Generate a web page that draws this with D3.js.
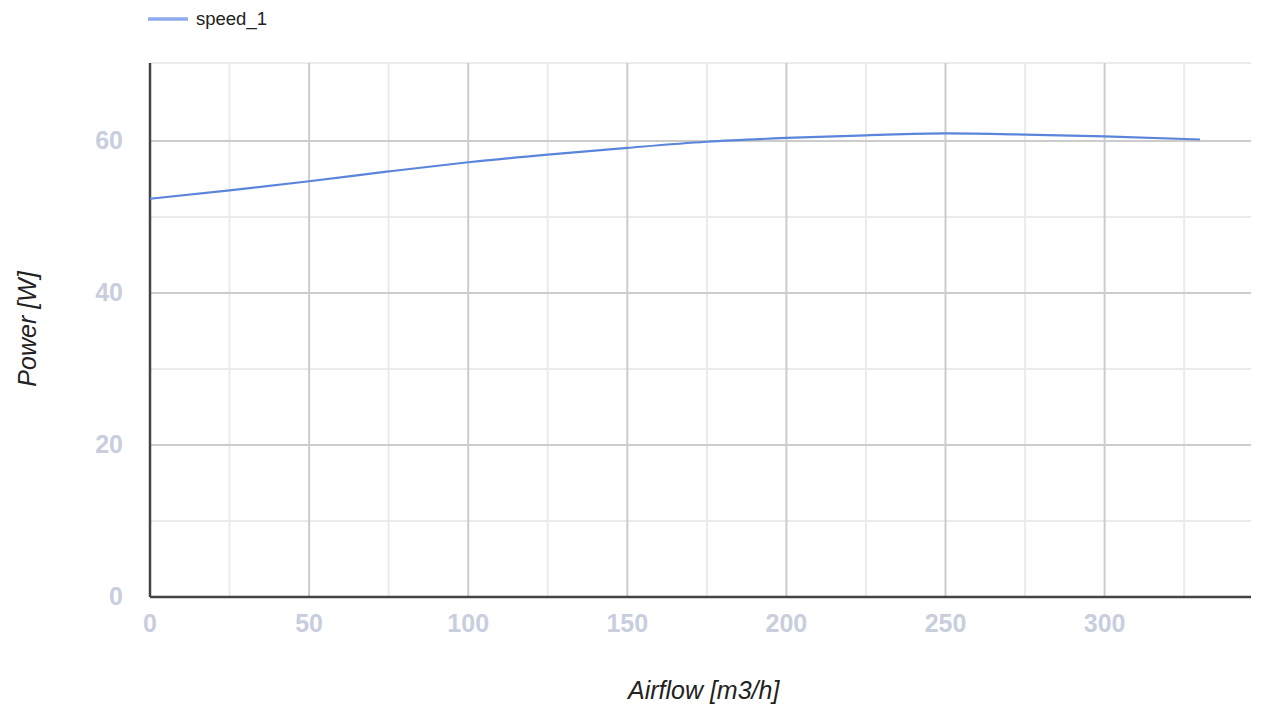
<!DOCTYPE html>
<html>
<head>
<meta charset="utf-8">
<script src="https://cdn.jsdelivr.net/npm/d3@7"></script>
<style>
  body { margin: 0; background: #fff; }
  svg { display: block; font-family: 'Liberation Sans', Arial, sans-serif; }
</style>
</head>
<body>
<svg width="1263" height="709"></svg>
<script>
'use strict';

const seriesName = 'speed_1'
const airflow = [0, 25, 50, 75, 100, 125, 150, 175, 200, 225, 250, 275, 300, 330]
const power = [52.4, 53.5, 54.7, 56.0, 57.2, 58.2, 59.1, 59.9, 60.4, 60.75, 61.0, 60.85, 60.6, 60.2]
const xTicks = [0, 50, 100, 150, 200, 250, 300]
const xMinor = [25, 75, 125, 175, 225, 275, 325]
const yTicks = [0, 20, 40, 60]
const yMinor = [10, 30, 50]

const svg = d3.select('svg')
const margin = {top: 63, right: 12, bottom: 112, left: 150}
const width = +svg.attr('width') - margin.left - margin.right
const height = +svg.attr('height') - margin.top - margin.bottom

const x = d3.scaleLinear().domain([0, 346]).range([0, width])
const y = d3.scaleLinear().domain([0, 60]).range([height, height - 456])

const g = svg.append('g').attr('transform', 'translate(' + margin.left + ',' + margin.top + ')')

// minor gridlines
g.append('g').selectAll('line.vmin').data(xMinor).enter().append('line')
  .attr('x1', (d) => x(d)).attr('x2', (d) => x(d))
  .attr('y1', 0).attr('y2', height)
  .style('stroke', '#ebebeb').style('stroke-width', '2px')
g.append('g').selectAll('line.hmin').data(yMinor).enter().append('line')
  .attr('x1', 0).attr('x2', width)
  .attr('y1', (d) => y(d)).attr('y2', (d) => y(d))
  .style('stroke', '#ebebeb').style('stroke-width', '2px')
g.append('line').attr('x1', 0).attr('x2', width).attr('y1', 0).attr('y2', 0)
  .style('stroke', '#ebebeb').style('stroke-width', '2px')

// major gridlines
g.append('g').selectAll('line.vmaj').data(xTicks.slice(1)).enter().append('line')
  .attr('x1', (d) => x(d)).attr('x2', (d) => x(d))
  .attr('y1', 0).attr('y2', height)
  .style('stroke', '#cccccc').style('stroke-width', '2px')
g.append('g').selectAll('line.hmaj').data(yTicks.slice(1)).enter().append('line')
  .attr('x1', 0).attr('x2', width)
  .attr('y1', (d) => y(d)).attr('y2', (d) => y(d))
  .style('stroke', '#cccccc').style('stroke-width', '2px')

// axis lines
g.append('line').attr('x1', 0).attr('x2', width).attr('y1', height).attr('y2', height)
  .style('stroke', '#444').style('stroke-width', '2.5px')
g.append('line').attr('x1', 0).attr('x2', 0).attr('y1', 0).attr('y2', height)
  .style('stroke', '#444').style('stroke-width', '2.5px')

// tick labels
g.append('g').selectAll('text').data(xTicks).enter().append('text')
  .attr('x', (d) => x(d)).attr('y', height + 25.5)
  .attr('dy', '0.36em')
  .attr('text-anchor', 'middle')
  .style('font-size', '25px').style('font-weight', 'bold').style('fill', '#c8cede')
  .text((d) => d)
g.append('g').selectAll('text').data(yTicks).enter().append('text')
  .attr('x', -27).attr('y', (d) => y(d) - 1)
  .attr('dy', '0.36em')
  .attr('text-anchor', 'end')
  .style('font-size', '25px').style('font-weight', 'bold').style('fill', '#c8cede')
  .text((d) => d)

// series
const line = d3.line()
  .x((d, i) => x(airflow[i]))
  .y((d) => y(d))
  .curve(d3.curveMonotoneX)
g.append('path').attr('d', line(power))
  .style('fill', 'none').style('stroke', '#5b85da').style('stroke-width', '2.2px')

// axis titles
svg.append('text')
  .attr('x', margin.left + x(174)).attr('y', 699)
  .attr('text-anchor', 'middle')
  .style('font-size', '25px').style('font-style', 'italic').style('fill', '#222')
  .text('Airflow [m3/h]')
svg.append('text')
  .attr('transform', 'translate(36,329) rotate(-90)')
  .attr('text-anchor', 'middle')
  .style('font-size', '25px').style('font-style', 'italic').style('fill', '#222')
  .text('Power [W]')

// legend
svg.append('line').attr('x1', 148).attr('x2', 188).attr('y1', 19).attr('y2', 19)
  .style('stroke', '#8eaaea').style('stroke-width', '3.5px')
svg.append('text').attr('x', 196).attr('y', 25)
  .style('font-size', '18.5px').style('fill', '#222')
  .text(seriesName)
</script>
</body>
</html>
